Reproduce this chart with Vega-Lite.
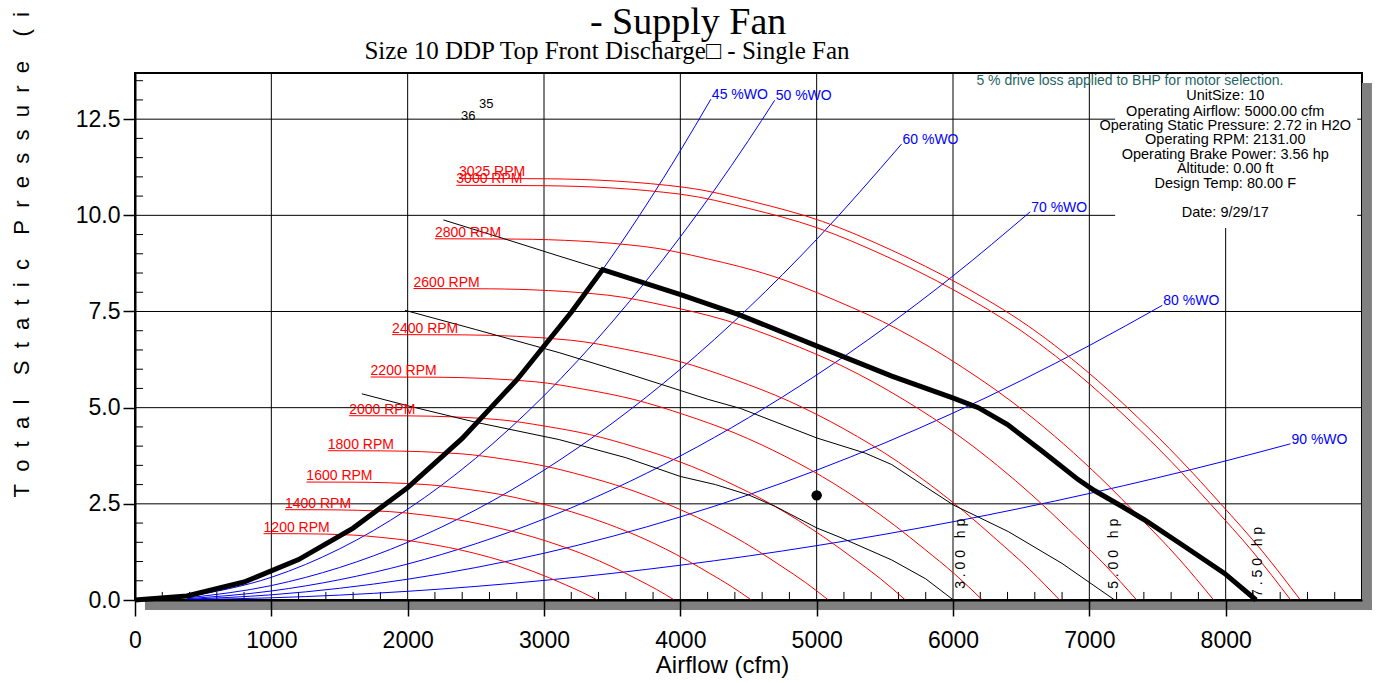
{
"$schema":"https://vega.github.io/schema/vega-lite/v6.json",
"width":1227,"height":527,
"autosize":{"type":"none"},
"padding":{"left":135,"top":73,"right":17,"bottom":83},
"background":"white",
"config":{"view":{"stroke":"black","strokeWidth":2},"text":{"font":"Liberation Sans"}},
"datasets":{
"gridx":[{"q":1000},{"q":2000},{"q":3000},{"q":4000},{"q":5000},{"q":6000},{"q":7000},{"q":8000}],
"gridy":[{"p":2.5},{"p":5},{"p":7.5},{"p":10},{"p":12.5}],
"xminor":[{"q":200},{"q":400},{"q":600},{"q":800},{"q":1200},{"q":1400},{"q":1600},{"q":1800},{"q":2200},{"q":2400},{"q":2600},{"q":2800},{"q":3200},{"q":3400},{"q":3600},{"q":3800},{"q":4200},{"q":4400},{"q":4600},{"q":4800},{"q":5200},{"q":5400},{"q":5600},{"q":5800},{"q":6200},{"q":6400},{"q":6600},{"q":6800},{"q":7200},{"q":7400},{"q":7600},{"q":7800},{"q":8200},{"q":8400},{"q":8600},{"q":8800}],
"yminor":[{"p":0.5},{"p":1},{"p":1.5},{"p":2},{"p":3},{"p":3.5},{"p":4},{"p":4.5},{"p":5.5},{"p":6},{"p":6.5},{"p":7},{"p":8},{"p":8.5},{"p":9},{"p":9.5},{"p":10.5},{"p":11},{"p":11.5},{"p":12},{"p":13},{"p":13.5}],
"rpm":[
{"s":"1200","q":943,"p":1.725},{"s":"1200","q":1200,"p":1.723},{"s":"1200","q":1600,"p":1.688},{"s":"1200","q":1800,"p":1.629},{"s":"1200","q":2000,"p":1.549},{"s":"1200","q":2200,"p":1.432},{"s":"1200","q":2400,"p":1.291},{"s":"1200","q":2600,"p":1.112},{"s":"1200","q":2800,"p":0.896},{"s":"1200","q":2920,"p":0.744},{"s":"1200","q":3040,"p":0.576},{"s":"1200","q":3160,"p":0.392},{"s":"1200","q":3280,"p":0.2},{"s":"1200","q":3391,"p":0},
{"s":"1400","q":1100,"p":2.348},{"s":"1400","q":1400,"p":2.345},{"s":"1400","q":1867,"p":2.298},{"s":"1400","q":2100,"p":2.217},{"s":"1400","q":2333,"p":2.108},{"s":"1400","q":2567,"p":1.949},{"s":"1400","q":2800,"p":1.757},{"s":"1400","q":3033,"p":1.514},{"s":"1400","q":3267,"p":1.22},{"s":"1400","q":3407,"p":1.013},{"s":"1400","q":3547,"p":0.784},{"s":"1400","q":3687,"p":0.534},{"s":"1400","q":3827,"p":0.272},{"s":"1400","q":3956,"p":0},
{"s":"1600","q":1257,"p":3.066},{"s":"1600","q":1600,"p":3.063},{"s":"1600","q":2133,"p":3.001},{"s":"1600","q":2400,"p":2.896},{"s":"1600","q":2667,"p":2.753},{"s":"1600","q":2933,"p":2.546},{"s":"1600","q":3200,"p":2.295},{"s":"1600","q":3467,"p":1.977},{"s":"1600","q":3733,"p":1.593},{"s":"1600","q":3893,"p":1.323},{"s":"1600","q":4053,"p":1.024},{"s":"1600","q":4213,"p":0.697},{"s":"1600","q":4373,"p":0.356},{"s":"1600","q":4521,"p":0},
{"s":"1800","q":1414,"p":3.881},{"s":"1800","q":1800,"p":3.877},{"s":"1800","q":2400,"p":3.798},{"s":"1800","q":2700,"p":3.665},{"s":"1800","q":3000,"p":3.485},{"s":"1800","q":3300,"p":3.222},{"s":"1800","q":3600,"p":2.905},{"s":"1800","q":3900,"p":2.502},{"s":"1800","q":4200,"p":2.016},{"s":"1800","q":4380,"p":1.674},{"s":"1800","q":4560,"p":1.296},{"s":"1800","q":4740,"p":0.882},{"s":"1800","q":4920,"p":0.45},{"s":"1800","q":5086,"p":0},
{"s":"2000","q":1571,"p":4.791},{"s":"2000","q":2000,"p":4.787},{"s":"2000","q":2667,"p":4.689},{"s":"2000","q":3000,"p":4.524},{"s":"2000","q":3333,"p":4.302},{"s":"2000","q":3667,"p":3.978},{"s":"2000","q":4000,"p":3.587},{"s":"2000","q":4333,"p":3.089},{"s":"2000","q":4667,"p":2.489},{"s":"2000","q":4867,"p":2.067},{"s":"2000","q":5067,"p":1.6},{"s":"2000","q":5267,"p":1.089},{"s":"2000","q":5467,"p":0.556},{"s":"2000","q":5651,"p":0},
{"s":"2200","q":1728,"p":5.797},{"s":"2200","q":2200,"p":5.792},{"s":"2200","q":2933,"p":5.674},{"s":"2200","q":3300,"p":5.475},{"s":"2200","q":3667,"p":5.206},{"s":"2200","q":4033,"p":4.813},{"s":"2200","q":4400,"p":4.34},{"s":"2200","q":4767,"p":3.738},{"s":"2200","q":5133,"p":3.012},{"s":"2200","q":5353,"p":2.501},{"s":"2200","q":5573,"p":1.936},{"s":"2200","q":5793,"p":1.318},{"s":"2200","q":6013,"p":0.672},{"s":"2200","q":6216,"p":0},
{"s":"2400","q":1886,"p":6.899},{"s":"2400","q":2400,"p":6.893},{"s":"2400","q":3200,"p":6.752},{"s":"2400","q":3600,"p":6.515},{"s":"2400","q":4000,"p":6.195},{"s":"2400","q":4400,"p":5.728},{"s":"2400","q":4800,"p":5.165},{"s":"2400","q":5200,"p":4.448},{"s":"2400","q":5600,"p":3.584},{"s":"2400","q":5840,"p":2.976},{"s":"2400","q":6080,"p":2.304},{"s":"2400","q":6320,"p":1.568},{"s":"2400","q":6560,"p":0.8},{"s":"2400","q":6782,"p":0},
{"s":"2600","q":2043,"p":8.097},{"s":"2600","q":2600,"p":8.089},{"s":"2600","q":3467,"p":7.924},{"s":"2600","q":3900,"p":7.646},{"s":"2600","q":4333,"p":7.271},{"s":"2600","q":4767,"p":6.722},{"s":"2600","q":5200,"p":6.061},{"s":"2600","q":5633,"p":5.22},{"s":"2600","q":6067,"p":4.206},{"s":"2600","q":6327,"p":3.493},{"s":"2600","q":6587,"p":2.704},{"s":"2600","q":6847,"p":1.84},{"s":"2600","q":7107,"p":0.939},{"s":"2600","q":7347,"p":0},
{"s":"2800","q":2200,"p":9.391},{"s":"2800","q":2800,"p":9.382},{"s":"2800","q":3733,"p":9.19},{"s":"2800","q":4200,"p":8.868},{"s":"2800","q":4667,"p":8.432},{"s":"2800","q":5133,"p":7.796},{"s":"2800","q":5600,"p":7.03},{"s":"2800","q":6067,"p":6.054},{"s":"2800","q":6533,"p":4.878},{"s":"2800","q":6813,"p":4.051},{"s":"2800","q":7093,"p":3.136},{"s":"2800","q":7373,"p":2.134},{"s":"2800","q":7653,"p":1.089},{"s":"2800","q":7912,"p":0},
{"s":"3000","q":2357,"p":10.78},{"s":"3000","q":3000,"p":10.77},{"s":"3000","q":4000,"p":10.55},{"s":"3000","q":4500,"p":10.18},{"s":"3000","q":5000,"p":9.68},{"s":"3000","q":5500,"p":8.95},{"s":"3000","q":6000,"p":8.07},{"s":"3000","q":6500,"p":7.0},{"s":"3000","q":7000,"p":5.62},{"s":"3000","q":7300,"p":4.65},{"s":"3000","q":7600,"p":3.6},{"s":"3000","q":7900,"p":2.45},{"s":"3000","q":8200,"p":1.25},{"s":"3000","q":8477,"p":0},
{"s":"3025","q":2377,"p":10.96},{"s":"3025","q":3025,"p":10.95},{"s":"3025","q":4033,"p":10.727},{"s":"3025","q":4538,"p":10.35},{"s":"3025","q":5042,"p":9.842},{"s":"3025","q":5546,"p":9.1},{"s":"3025","q":6050,"p":8.205},{"s":"3025","q":6554,"p":7.117},{"s":"3025","q":7058,"p":5.714},{"s":"3025","q":7361,"p":4.728},{"s":"3025","q":7663,"p":3.66},{"s":"3025","q":7966,"p":2.491},{"s":"3025","q":8268,"p":1.271},{"s":"3025","q":8548,"p":0}
],
"rpmlab":[{"t":"1200 RPM","q":943,"p":1.725},{"t":"1400 RPM","q":1100,"p":2.348},{"t":"1600 RPM","q":1257,"p":3.066},{"t":"1800 RPM","q":1414,"p":3.881},{"t":"2000 RPM","q":1571,"p":4.791},{"t":"2200 RPM","q":1728,"p":5.797},{"t":"2400 RPM","q":1886,"p":6.899},{"t":"2600 RPM","q":2043,"p":8.097},{"t":"2800 RPM","q":2200,"p":9.391},{"t":"3000 RPM","q":2357,"p":10.78},{"t":"3025 RPM","q":2377,"p":10.96}],
"wo":[
{"s":"45","q":380,"p":0.105},{"s":"45","q":1000,"p":0.73},{"s":"45","q":1500,"p":1.643},{"s":"45","q":2000,"p":2.92},{"s":"45","q":2500,"p":4.563},{"s":"45","q":3000,"p":6.57},{"s":"45","q":3500,"p":8.943},{"s":"45","q":4000,"p":11.68},{"s":"45","q":4224,"p":13.02},
{"s":"50","q":380,"p":0.085},{"s":"50","q":1000,"p":0.59},{"s":"50","q":1500,"p":1.328},{"s":"50","q":2000,"p":2.36},{"s":"50","q":2500,"p":3.688},{"s":"50","q":3000,"p":5.31},{"s":"50","q":3500,"p":7.228},{"s":"50","q":4000,"p":9.44},{"s":"50","q":4500,"p":11.948},{"s":"50","q":4692,"p":12.99},
{"s":"60","q":380,"p":0.054},{"s":"60","q":1000,"p":0.375},{"s":"60","q":1500,"p":0.844},{"s":"60","q":2000,"p":1.5},{"s":"60","q":2500,"p":2.344},{"s":"60","q":3000,"p":3.375},{"s":"60","q":3500,"p":4.594},{"s":"60","q":4000,"p":6.0},{"s":"60","q":4500,"p":7.594},{"s":"60","q":5000,"p":9.375},{"s":"60","q":5622,"p":11.85},
{"s":"70","q":380,"p":0.034},{"s":"70","q":1000,"p":0.234},{"s":"70","q":1500,"p":0.527},{"s":"70","q":2000,"p":0.936},{"s":"70","q":2500,"p":1.463},{"s":"70","q":3000,"p":2.106},{"s":"70","q":3500,"p":2.867},{"s":"70","q":4000,"p":3.744},{"s":"70","q":4500,"p":4.739},{"s":"70","q":5000,"p":5.85},{"s":"70","q":5500,"p":7.079},{"s":"70","q":6000,"p":8.424},{"s":"70","q":6566,"p":10.09},
{"s":"80","q":380,"p":0.019},{"s":"80","q":1000,"p":0.135},{"s":"80","q":1500,"p":0.304},{"s":"80","q":2000,"p":0.54},{"s":"80","q":3000,"p":1.215},{"s":"80","q":4000,"p":2.16},{"s":"80","q":5000,"p":3.375},{"s":"80","q":6000,"p":4.86},{"s":"80","q":7000,"p":6.615},{"s":"80","q":7535,"p":7.66},
{"s":"90","q":380,"p":0.008},{"s":"90","q":1000,"p":0.057},{"s":"90","q":2000,"p":0.226},{"s":"90","q":3000,"p":0.509},{"s":"90","q":4000,"p":0.904},{"s":"90","q":5000,"p":1.413},{"s":"90","q":6000,"p":2.034},{"s":"90","q":7000,"p":2.769},{"s":"90","q":8000,"p":3.616},{"s":"90","q":8475,"p":4.06}
],
"wolab":[{"t":"45 %WO","q":4224,"p":13.02},{"t":"50 %WO","q":4692,"p":12.99},{"t":"60 %WO","q":5622,"p":11.85},{"t":"70 %WO","q":6566,"p":10.09},{"t":"80 %WO","q":7535,"p":7.66},{"t":"90 %WO","q":8475,"p":4.06}],
"hp":[
{"s":"3","q":1664,"p":5.36},{"s":"3","q":2000,"p":5.05},{"s":"3","q":2500,"p":4.62},{"s":"3","q":3111,"p":4.17},{"s":"3","q":3600,"p":3.7},{"s":"3","q":4002,"p":3.21},{"s":"3","q":4258,"p":3.0},{"s":"3","q":4502,"p":2.73},{"s":"3","q":4698,"p":2.43},{"s":"3","q":5003,"p":1.87},{"s":"3","q":5185,"p":1.61},{"s":"3","q":5551,"p":1.04},{"s":"3","q":5800,"p":0.55},{"s":"3","q":6003,"p":0},
{"s":"5","q":1981,"p":7.53},{"s":"5","q":2500,"p":7.03},{"s":"5","q":3111,"p":6.43},{"s":"5","q":3600,"p":5.9},{"s":"5","q":4209,"p":5.21},{"s":"5","q":4441,"p":4.98},{"s":"5","q":5003,"p":4.21},{"s":"5","q":5355,"p":3.82},{"s":"5","q":5551,"p":3.52},{"s":"5","q":5795,"p":2.95},{"s":"5","q":6003,"p":2.47},{"s":"5","q":6405,"p":1.78},{"s":"5","q":6800,"p":0.95},{"s":"5","q":7186,"p":0},
{"s":"7.5","q":2262,"p":9.88},{"s":"7.5","q":2700,"p":9.4},{"s":"7.5","q":3111,"p":8.94},{"s":"7.5","q":3430,"p":8.59},{"s":"7.5","q":4002,"p":7.94},{"s":"7.5","q":4429,"p":7.42},{"s":"7.5","q":5003,"p":6.6},{"s":"7.5","q":5551,"p":5.82},{"s":"7.5","q":6003,"p":5.25},{"s":"7.5","q":6186,"p":5.0},{"s":"7.5","q":6400,"p":4.56},{"s":"7.5","q":6662,"p":3.85},{"s":"7.5","q":6918,"p":3.13},{"s":"7.5","q":7040,"p":2.84},{"s":"7.5","q":7284,"p":2.34},{"s":"7.5","q":7406,"p":2.08},{"s":"7.5","q":7699,"p":1.39},{"s":"7.5","q":7992,"p":0.69},{"s":"7.5","q":8223,"p":0}
],
"hplab":[{"t":"3\u00a0.\u00a00\u00a00\u00a0\u00a0\u00a0h\u00a0p","q":6061,"p":0.29},{"t":"5\u00a0.\u00a00\u00a00\u00a0\u00a0\u00a0h\u00a0p","q":7182,"p":0.29},{"t":"7\u00a0.\u00a05\u00a00\u00a0\u00a0\u00a0h\u00a0p","q":8236,"p":0.08}],
"thick":[{"q":0,"p":0},{"q":380,"p":0.105},{"q":800,"p":0.467},{"q":1200,"p":1.05},{"q":1600,"p":1.87},{"q":2000,"p":2.92},{"q":2400,"p":4.2},{"q":2800,"p":5.72},{"q":3200,"p":7.48},{"q":3430,"p":8.59},{"q":4002,"p":7.94},{"q":4429,"p":7.42},{"q":5003,"p":6.6},{"q":5551,"p":5.82},{"q":6003,"p":5.25},{"q":6186,"p":5.0},{"q":6400,"p":4.56},{"q":6662,"p":3.85},{"q":6918,"p":3.13},{"q":7040,"p":2.84},{"q":7284,"p":2.34},{"q":7406,"p":2.08},{"q":7699,"p":1.39},{"q":7992,"p":0.69},{"q":8223,"p":0}],
"op":[{"q":5000,"p":2.72}],
"misc":[{"t":"36","q":2445,"p":12.58},{"t":"35","q":2577,"p":12.89}],
"notes":[{"t":"UnitSize: 10","q":7997,"p":13.1},{"t":"Operating Airflow: 5000.00 cfm","q":7997,"p":12.69},{"t":"Operating Static Pressure: 2.72 in H2O","q":7997,"p":12.33},{"t":"Operating RPM: 2131.00","q":7997,"p":11.95},{"t":"Operating Brake Power: 3.56 hp","q":7997,"p":11.56},{"t":"Altitude: 0.00 ft","q":7997,"p":11.2},{"t":"Design Temp: 80.00 F","q":7997,"p":10.82},{"t":"Date: 9/29/17","q":7997,"p":10.06}],
"teal":[{"t":"5 % drive loss applied to BHP for motor selection.","q":7298,"p":13.49}],
"title":[{"t":"- Supply Fan","q":4057,"p":14.71}],
"subtitle":[{"t":"Size 10 DDP Top Front Discharge□ - Single Fan","q":3462,"p":14.07}]
},
"layer":[
{"data":{"name":"gridx"},"mark":{"type":"rule","color":"black","strokeWidth":1},
 "encoding":{"x":{"field":"q","type":"quantitative","scale":{"domain":[0,9000],"nice":false,"zero":false},
  "axis":{"title":"Airflow (cfm)","values":[0,1000,2000,3000,4000,5000,6000,7000,8000],"format":"d","grid":false,"zindex":1,"domainColor":"black","domainWidth":2,"tickColor":"black","tickWidth":1.5,"tickSize":16,"labelFont":"Liberation Sans","labelFontSize":23,"labelColor":"black","labelPadding":13,"labelFlush":false,"labelOverlap":false,"titleFont":"Liberation Sans","titleFontSize":24,"titleFontWeight":"normal","titleColor":"black","titleAlign":"center","titleBaseline":"alphabetic","titleX":587,"titleY":72}}}},
{"data":{"name":"gridy"},"mark":{"type":"rule","color":"black","strokeWidth":1},
 "encoding":{"y":{"field":"p","type":"quantitative","scale":{"domain":[0,13.7],"nice":false,"zero":false},
  "axis":{"title":"T\u00a0\u00a0o\u00a0\u00a0t\u00a0\u00a0a\u00a0\u00a0l\u00a0\u00a0\u00a0\u00a0S\u00a0\u00a0t\u00a0\u00a0a\u00a0\u00a0t\u00a0\u00a0i\u00a0\u00a0c\u00a0\u00a0\u00a0\u00a0P\u00a0\u00a0r\u00a0\u00a0e\u00a0\u00a0s\u00a0\u00a0s\u00a0\u00a0u\u00a0\u00a0r\u00a0\u00a0e\u00a0\u00a0\u00a0\u00a0(\u00a0\u00a0i\u00a0\u00a0n\u00a0\u00a0\u00a0\u00a0H\u00a0\u00a02\u00a0\u00a0O\u00a0\u00a0)","values":[0,2.5,5,7.5,10,12.5],"format":".1f","grid":false,"zindex":1,"domainColor":"black","domainWidth":2,"tickColor":"black","tickWidth":1.5,"tickSize":12,"labelFont":"Liberation Sans","labelFontSize":23,"labelColor":"black","labelPadding":3,"labelOverlap":false,"titleFont":"Liberation Sans","titleFontSize":22,"titleFontWeight":"normal","titleColor":"black","titleAngle":270,"titleAlign":"left","titleBaseline":"middle","titleX":-114,"titleY":424,"titleLimit":2000}}}},
{"data":{"values":[{}]},"mark":{"type":"rect","color":"#808080"},
 "encoding":{"x":{"datum":73},"x2":{"datum":9073},"y":{"datum":-0.26},"y2":{"datum":0}}},
{"data":{"values":[{}]},"mark":{"type":"rect","color":"#808080"},
 "encoding":{"x":{"datum":9000},"x2":{"datum":9073},"y":{"datum":-0.26},"y2":{"datum":13.44}}},
{"data":{"name":"xminor"},"mark":{"type":"rule","color":"black","strokeWidth":1},
 "encoding":{"x":{"field":"q","type":"quantitative"},"y":{"datum":0},"y2":{"datum":0.21}}},
{"data":{"name":"yminor"},"mark":{"type":"rule","color":"black","strokeWidth":1},
 "encoding":{"y":{"field":"p","type":"quantitative"},"x":{"datum":0},"x2":{"datum":59}}},
{"data":{"values":[{}]},"mark":{"type":"rect","color":"white"},
 "encoding":{"x":{"datum":7189},"x2":{"datum":8965},"y":{"datum":9.67},"y2":{"datum":13.66}}},
{"data":{"name":"wo"},"mark":{"type":"line","color":"#0000ff","strokeWidth":1,"interpolate":"monotone"},
 "encoding":{"x":{"field":"q","type":"quantitative"},"y":{"field":"p","type":"quantitative"},"detail":{"field":"s"}}},
{"data":{"name":"rpm"},"mark":{"type":"line","color":"#ff0000","strokeWidth":1,"interpolate":"monotone"},
 "encoding":{"x":{"field":"q","type":"quantitative"},"y":{"field":"p","type":"quantitative"},"detail":{"field":"s"}}},
{"data":{"name":"hp"},"mark":{"type":"line","color":"black","strokeWidth":1},
 "encoding":{"x":{"field":"q","type":"quantitative"},"y":{"field":"p","type":"quantitative"},"detail":{"field":"s"}}},
{"data":{"name":"thick"},"mark":{"type":"line","color":"black","strokeWidth":5},
 "encoding":{"x":{"field":"q","type":"quantitative"},"y":{"field":"p","type":"quantitative"}}},
{"data":{"name":"op"},"mark":{"type":"point","filled":true,"color":"black","opacity":1,"size":110},
 "encoding":{"x":{"field":"q","type":"quantitative"},"y":{"field":"p","type":"quantitative"}}},
{"data":{"name":"rpmlab"},"mark":{"type":"text","color":"#ff0000","fontSize":14,"align":"left","baseline":"alphabetic","dy":-2},
 "encoding":{"x":{"field":"q","type":"quantitative"},"y":{"field":"p","type":"quantitative"},"text":{"field":"t"}}},
{"data":{"name":"wolab"},"mark":{"type":"text","color":"#0000ff","fontSize":14,"align":"left","baseline":"alphabetic","dx":1},
 "encoding":{"x":{"field":"q","type":"quantitative"},"y":{"field":"p","type":"quantitative"},"text":{"field":"t"}}},
{"data":{"name":"hplab"},"mark":{"type":"text","color":"black","fontSize":14,"align":"left","baseline":"middle","angle":270},
 "encoding":{"x":{"field":"q","type":"quantitative"},"y":{"field":"p","type":"quantitative"},"text":{"field":"t"}}},
{"data":{"name":"misc"},"mark":{"type":"text","color":"black","fontSize":13,"align":"center","baseline":"middle"},
 "encoding":{"x":{"field":"q","type":"quantitative"},"y":{"field":"p","type":"quantitative"},"text":{"field":"t"}}},
{"data":{"name":"notes"},"mark":{"type":"text","color":"black","fontSize":14.5,"align":"center","baseline":"middle"},
 "encoding":{"x":{"field":"q","type":"quantitative"},"y":{"field":"p","type":"quantitative"},"text":{"field":"t"}}},
{"data":{"name":"teal"},"mark":{"type":"text","color":"#1f6464","fontSize":14,"align":"center","baseline":"middle"},
 "encoding":{"x":{"field":"q","type":"quantitative"},"y":{"field":"p","type":"quantitative"},"text":{"field":"t"}}},
{"data":{"name":"title"},"mark":{"type":"text","color":"black","font":"Liberation Serif","fontSize":38,"align":"center","baseline":"alphabetic"},
 "encoding":{"x":{"field":"q","type":"quantitative"},"y":{"field":"p","type":"quantitative"},"text":{"field":"t"}}},
{"data":{"name":"subtitle"},"mark":{"type":"text","color":"black","font":"Liberation Serif","fontSize":25,"align":"center","baseline":"alphabetic"},
 "encoding":{"x":{"field":"q","type":"quantitative"},"y":{"field":"p","type":"quantitative"},"text":{"field":"t"}}}
]
}
